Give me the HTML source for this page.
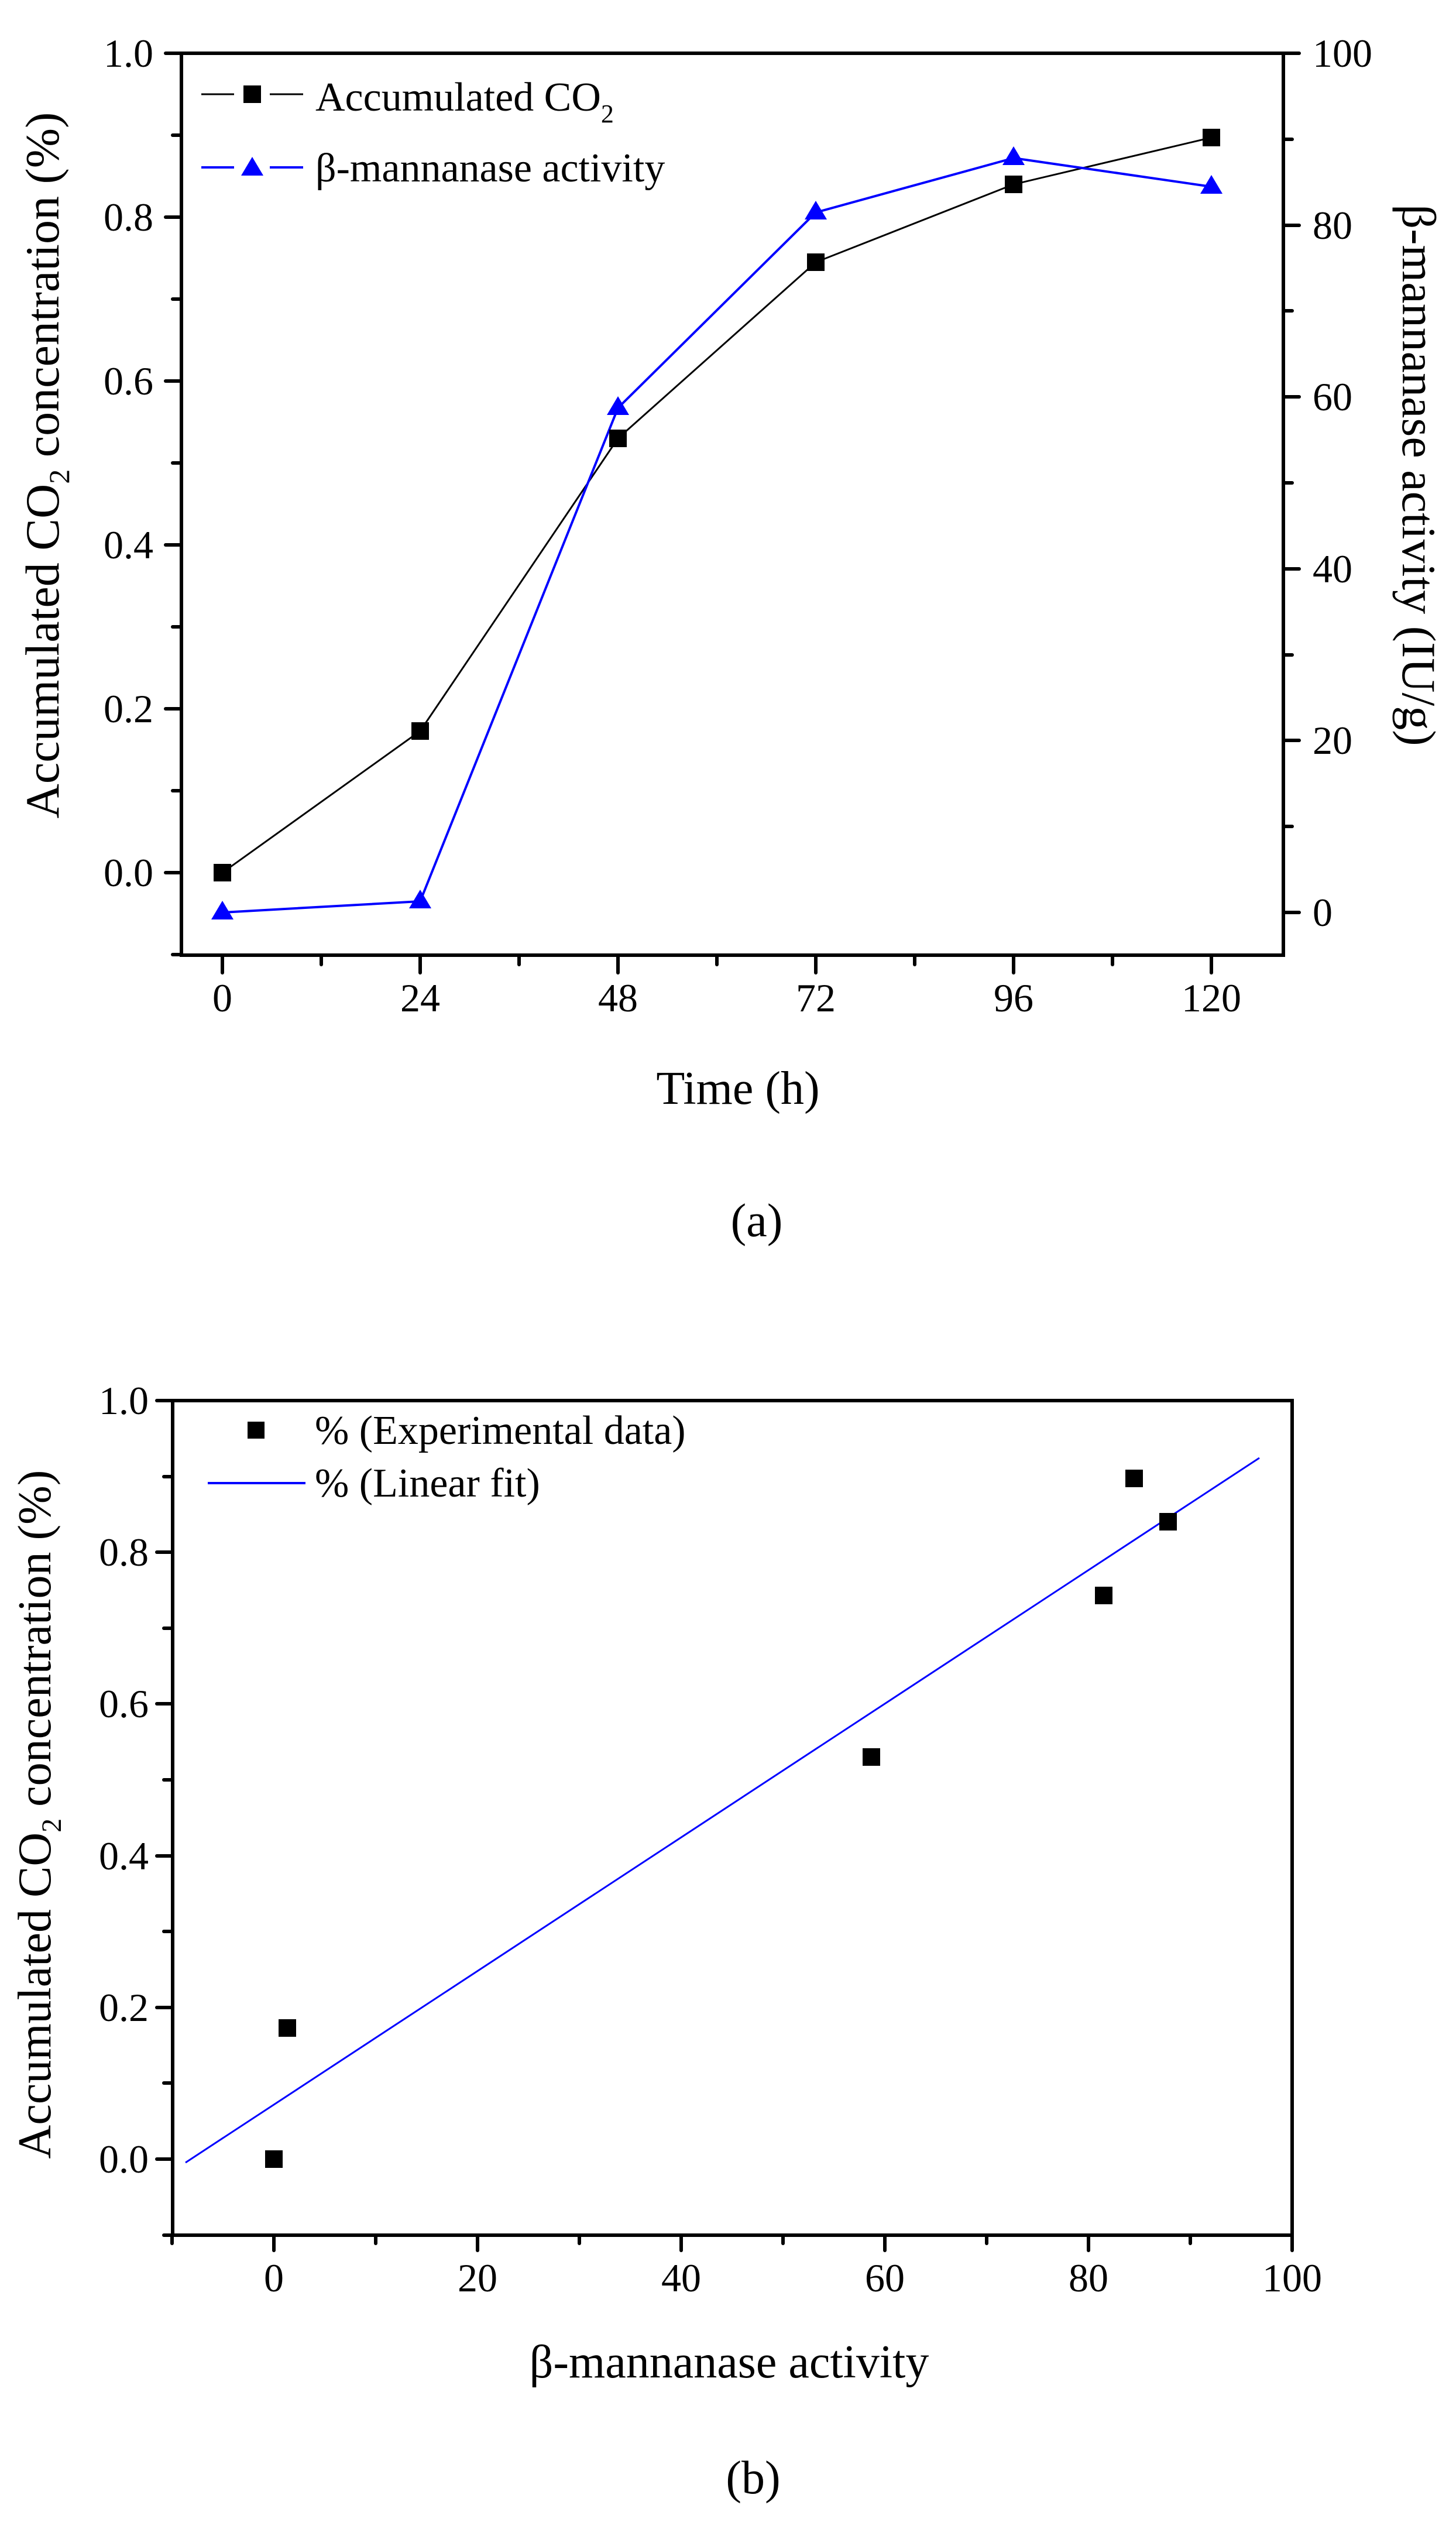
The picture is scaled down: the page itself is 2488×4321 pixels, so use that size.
<!DOCTYPE html>
<html><head><meta charset="utf-8"><style>
html,body{margin:0;padding:0;background:#fff;}
svg{display:block;}
text{font-family:"Liberation Serif",serif;fill:#000;}
</style></head><body>
<svg width="2488" height="4321" viewBox="0 0 2488 4321" xmlns="http://www.w3.org/2000/svg">
<rect width="2488" height="4321" fill="#fff"/>
<!-- ===== Plot (a) ===== -->
<rect x="310" y="91" width="1883" height="1541" fill="none" stroke="#000" stroke-width="6"/>
<g stroke="#000" stroke-width="6" stroke-linecap="round">
<line x1="310" y1="91" x2="283" y2="91"/>
<line x1="310" y1="231" x2="295" y2="231"/>
<line x1="310" y1="371" x2="283" y2="371"/>
<line x1="310" y1="511" x2="295" y2="511"/>
<line x1="310" y1="651" x2="283" y2="651"/>
<line x1="310" y1="791" x2="295" y2="791"/>
<line x1="310" y1="931" x2="283" y2="931"/>
<line x1="310" y1="1071" x2="295" y2="1071"/>
<line x1="310" y1="1211" x2="283" y2="1211"/>
<line x1="310" y1="1351" x2="295" y2="1351"/>
<line x1="310" y1="1491" x2="283" y2="1491"/>
<line x1="310" y1="1631" x2="295" y2="1631"/>
<line x1="2193" y1="1559" x2="2220" y2="1559"/>
<line x1="2193" y1="1412" x2="2208" y2="1412"/>
<line x1="2193" y1="1265" x2="2220" y2="1265"/>
<line x1="2193" y1="1119" x2="2208" y2="1119"/>
<line x1="2193" y1="972" x2="2220" y2="972"/>
<line x1="2193" y1="825" x2="2208" y2="825"/>
<line x1="2193" y1="678" x2="2220" y2="678"/>
<line x1="2193" y1="531" x2="2208" y2="531"/>
<line x1="2193" y1="385" x2="2220" y2="385"/>
<line x1="2193" y1="238" x2="2208" y2="238"/>
<line x1="2193" y1="91" x2="2220" y2="91"/>
<line x1="380" y1="1632" x2="380" y2="1662"/>
<line x1="549" y1="1632" x2="549" y2="1648"/>
<line x1="718" y1="1632" x2="718" y2="1662"/>
<line x1="887" y1="1632" x2="887" y2="1648"/>
<line x1="1056" y1="1632" x2="1056" y2="1662"/>
<line x1="1225" y1="1632" x2="1225" y2="1648"/>
<line x1="1394" y1="1632" x2="1394" y2="1662"/>
<line x1="1563" y1="1632" x2="1563" y2="1648"/>
<line x1="1732" y1="1632" x2="1732" y2="1662"/>
<line x1="1901" y1="1632" x2="1901" y2="1648"/>
<line x1="2070" y1="1632" x2="2070" y2="1662"/>
</g>
<g font-size="68" text-anchor="end">
<text x="262" y="114">1.0</text>
<text x="262" y="394">0.8</text>
<text x="262" y="674">0.6</text>
<text x="262" y="954">0.4</text>
<text x="262" y="1234">0.2</text>
<text x="262" y="1514">0.0</text>
</g>
<g font-size="68" text-anchor="start">
<text x="2243" y="114">100</text>
<text x="2243" y="408">80</text>
<text x="2243" y="701">60</text>
<text x="2243" y="995">40</text>
<text x="2243" y="1288">20</text>
<text x="2243" y="1582">0</text>
</g>
<g font-size="68" text-anchor="middle">
<text x="380" y="1728">0</text>
<text x="718" y="1728">24</text>
<text x="1056" y="1728">48</text>
<text x="1394" y="1728">72</text>
<text x="1732" y="1728">96</text>
<text x="2070" y="1728">120</text>
</g>
<text x="1261" y="1886" font-size="80" text-anchor="middle">Time (h)</text>
<text x="1293" y="2112" font-size="80" text-anchor="middle">(a)</text>
<text transform="translate(100,795) rotate(-90)" font-size="82" text-anchor="middle">Accumulated  CO<tspan font-size="50" dy="18">2</tspan><tspan dy="-18"> concentration (%)</tspan></text>
<text transform="translate(2397,812) rotate(90)" font-size="82" text-anchor="middle">β-mannanase activity (IU/g)</text>
<polyline points="380,1491 718,1249 1056,749 1394,448 1732,315 2070,235" fill="none" stroke="#000" stroke-width="3"/>
<polyline points="380,1559 718,1540 1056,697 1394,363 1732,270 2070,319" fill="none" stroke="#0000ff" stroke-width="4"/>
<g fill="#000">
<rect x="365" y="1476" width="30" height="30"/>
<rect x="703" y="1234" width="30" height="30"/>
<rect x="1041" y="734" width="30" height="30"/>
<rect x="1379" y="433" width="30" height="30"/>
<rect x="1717" y="300" width="30" height="30"/>
<rect x="2055" y="220" width="30" height="30"/>
</g>
<g fill="#0000ff">
<polygon points="380,1539 399,1571 361,1571"/>
<polygon points="718,1520 737,1552 699,1552"/>
<polygon points="1056,677 1075,709 1037,709"/>
<polygon points="1394,343 1413,375 1375,375"/>
<polygon points="1732,250 1751,282 1713,282"/>
<polygon points="2070,299 2089,331 2051,331"/>
</g>
<line x1="344" y1="161" x2="400" y2="161" stroke="#000" stroke-width="3"/>
<line x1="461" y1="161" x2="518" y2="161" stroke="#000" stroke-width="3"/>
<rect x="416" y="146" width="30" height="30" fill="#000"/>
<line x1="344" y1="286" x2="400" y2="286" stroke="#0000ff" stroke-width="4"/>
<line x1="461" y1="286" x2="518" y2="286" stroke="#0000ff" stroke-width="4"/>
<polygon points="431,268 450,300 412,300" fill="#0000ff"/>
<text x="539" y="189" font-size="70">Accumulated  CO<tspan font-size="44" dy="20">2</tspan></text>
<text x="539" y="310" font-size="70">β-mannanase activity</text>

<!-- ===== Plot (b) ===== -->
<rect x="295" y="2393" width="1913" height="1426" fill="none" stroke="#000" stroke-width="6"/>
<g stroke="#000" stroke-width="6" stroke-linecap="round">
<line x1="295" y1="2393" x2="268" y2="2393"/>
<line x1="295" y1="2523" x2="280" y2="2523"/>
<line x1="295" y1="2652" x2="268" y2="2652"/>
<line x1="295" y1="2782" x2="280" y2="2782"/>
<line x1="295" y1="2911" x2="268" y2="2911"/>
<line x1="295" y1="3041" x2="280" y2="3041"/>
<line x1="295" y1="3171" x2="268" y2="3171"/>
<line x1="295" y1="3300" x2="280" y2="3300"/>
<line x1="295" y1="3430" x2="268" y2="3430"/>
<line x1="295" y1="3559" x2="280" y2="3559"/>
<line x1="295" y1="3689" x2="268" y2="3689"/>
<line x1="295" y1="3819" x2="280" y2="3819"/>
<line x1="294" y1="3819" x2="294" y2="3833"/>
<line x1="468" y1="3819" x2="468" y2="3845"/>
<line x1="642" y1="3819" x2="642" y2="3833"/>
<line x1="816" y1="3819" x2="816" y2="3845"/>
<line x1="990" y1="3819" x2="990" y2="3833"/>
<line x1="1164" y1="3819" x2="1164" y2="3845"/>
<line x1="1338" y1="3819" x2="1338" y2="3833"/>
<line x1="1512" y1="3819" x2="1512" y2="3845"/>
<line x1="1686" y1="3819" x2="1686" y2="3833"/>
<line x1="1860" y1="3819" x2="1860" y2="3845"/>
<line x1="2034" y1="3819" x2="2034" y2="3833"/>
<line x1="2208" y1="3819" x2="2208" y2="3845"/>
</g>
<g font-size="68" text-anchor="end">
<text x="254" y="2416">1.0</text>
<text x="254" y="2675">0.8</text>
<text x="254" y="2934">0.6</text>
<text x="254" y="3194">0.4</text>
<text x="254" y="3453">0.2</text>
<text x="254" y="3712">0.0</text>
</g>
<g font-size="68" text-anchor="middle">
<text x="468" y="3915">0</text>
<text x="816" y="3915">20</text>
<text x="1164" y="3915">40</text>
<text x="1512" y="3915">60</text>
<text x="1860" y="3915">80</text>
<text x="2208" y="3915">100</text>
</g>
<text x="1246" y="4062" font-size="80" text-anchor="middle">β-mannanase activity</text>
<text x="1287" y="4260" font-size="80" text-anchor="middle">(b)</text>
<text transform="translate(86,3100) rotate(-90)" font-size="80" text-anchor="middle">Accumulated CO<tspan font-size="48" dy="18">2</tspan><tspan dy="-18"> concentration (%)</tspan></text>
<line x1="317" y1="3695" x2="2152" y2="2491" stroke="#0000ff" stroke-width="3"/>
<g fill="#000">
<rect x="453" y="3674" width="30" height="30"/>
<rect x="476" y="3450" width="30" height="30"/>
<rect x="1474" y="2987" width="30" height="30"/>
<rect x="1871" y="2711" width="30" height="30"/>
<rect x="1923" y="2511" width="30" height="30"/>
<rect x="1981" y="2585" width="30" height="30"/>
</g>
<rect x="423" y="2429" width="29" height="29" fill="#000"/>
<line x1="355" y1="2534" x2="522" y2="2534" stroke="#0000ff" stroke-width="4"/>
<text x="538" y="2467" font-size="70">% (Experimental data)</text>
<text x="538" y="2557" font-size="70">% (Linear fit)</text>
</svg>
</body></html>
